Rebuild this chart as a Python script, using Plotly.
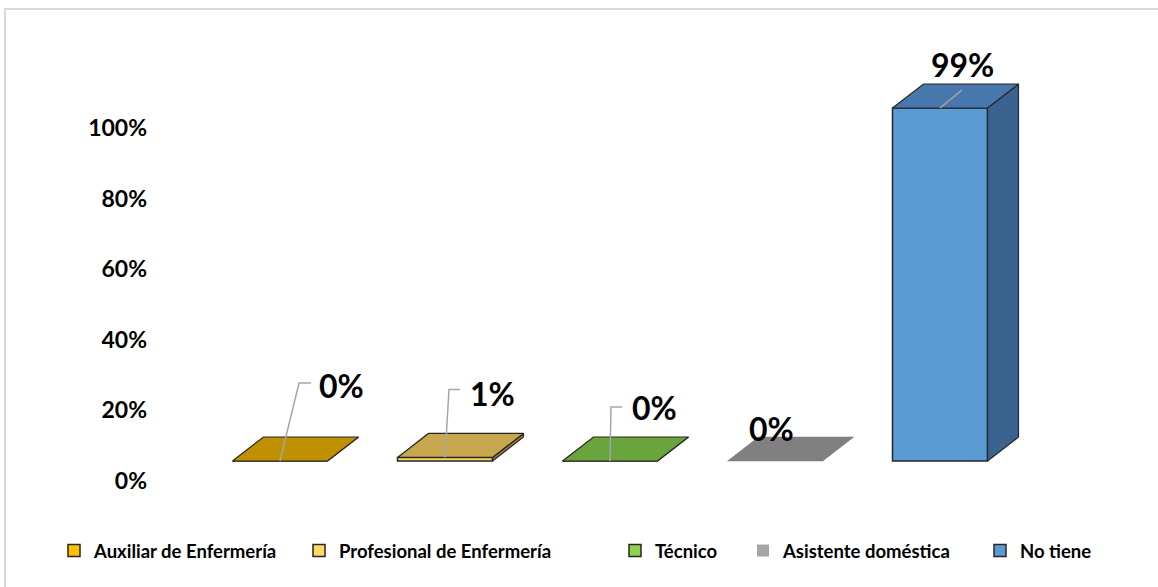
import plotly.graph_objects as go

# ---- data ----
categories = ["Auxiliar de Enfermería", "Profesional de Enfermería", "Técnico",
              "Asistente doméstica", "No tiene"]
values = [0, 1, 0, 0, 99]
value_labels = ["0%", "1%", "0%", "0%", "99%"]
tick_values = [0, 20, 40, 60, 80, 100]
tick_labels = ["0%", "20%", "40%", "60%", "80%", "100%"]

# ---- styles ----
front_colors = ["#FFC000", "#FFD966", "#92D050", "#A5A5A5", "#5B9BD5"]
top_colors = ["#BF9000", "#C8A84E", "#6AA43C", "#808080", "#4777AD"]
side_colors = ["#8F6C00", "#967E3A", "#4F7B2D", "#6A6A6A", "#3A638F"]
outlined = [True, True, True, False, True]
edge_color = "#262626"
leader_color = "#A6A6A6"
FONT = "Lato"

# ---- geometry (pixels) ----
W, H = 1158, 587
L, R, T, B = 152, 1110, 30, 505
X0_PX, X_STEP = 280, 165      # centre of first bar, distance between bars
BASE_PX = 461                 # bar baseline
K = 353 / 99                  # pixels per percentage point (bars)
BASE2_PX = 481                # baseline of the value axis labels
K2 = 3.53
BAR_W = 95 / X_STEP
DX = 31 / X_STEP              # depth offset of the 3D faces
DY = 24 / K

# label offsets (px) from the top-centre of each bar, and leader paths
label_offsets = [(61, -76), (47, -64), (44, -54), (-4, -33), (22, -44)]
leader_paths = [
    [(0, 0), (19, -78), (31, -78)],
    [(0, 0), (4, -68), (15, -68)],
    [(0, 0), (1, -54), (12, -54)],
    None,
    [(0, 0), (22, -18)],
]

fig = go.Figure()

# front faces (bars)
for i, (cat, v) in enumerate(zip(categories, values)):
    fig.add_trace(go.Bar(
        x=[i], y=[v], width=BAR_W, name=cat,
        marker=dict(color=front_colors[i],
                    line=dict(color=edge_color if outlined[i] else front_colors[i],
                              width=1.5 if outlined[i] else 0)),
        legend="legend" if i == 0 else f"legend{i + 1}",
        hoverinfo="name+y",
    ))

# top and side faces
for i, v in enumerate(values):
    xl, xr = i - BAR_W / 2, i + BAR_W / 2
    line = dict(color=edge_color if outlined[i] else top_colors[i],
                width=1.2 if outlined[i] else 0.5)
    side_x = [xr, xr + DX, xr + DX, xr, xr]
    side_y = [0, DY, v + DY, v, 0]
    fig.add_trace(go.Scatter(x=side_x, y=side_y, fill="toself", mode="lines",
                             fillcolor=side_colors[i], line=line,
                             showlegend=False, hoverinfo="skip"))
    top_x = [xl, xr, xr + DX, xl + DX, xl]
    top_y = [v, v, v + DY, v + DY, v]
    fig.add_trace(go.Scatter(x=top_x, y=top_y, fill="toself", mode="lines",
                             fillcolor=top_colors[i], line=line,
                             showlegend=False, hoverinfo="skip"))

# leader lines
for i, path in enumerate(leader_paths):
    if not path:
        continue
    fig.add_trace(go.Scatter(
        x=[i + px / X_STEP for px, _ in path],
        y=[values[i] - py / K for _, py in path],
        mode="lines", line=dict(color=leader_color, width=1.5),
        showlegend=False, hoverinfo="skip"))

# value labels
for i, (v, txt) in enumerate(zip(values, value_labels)):
    ox, oy = label_offsets[i]
    fig.add_annotation(x=i, y=v, xref="x", yref="y", text=txt, showarrow=False,
                       xshift=ox, yshift=-oy,
                       font=dict(family=FONT, size=32, color="#000000", weight="bold"))

# carrier trace for the percentage axis
fig.add_trace(go.Scatter(x=[None], y=[None], yaxis="y2", showlegend=False,
                         hoverinfo="skip"))

plot_w, plot_h = R - L, B - T


def paper_x(px):
    return (px - L) / plot_w


def paper_y(py):
    return (B - py) / plot_h


# one legend per entry so each sits at its own position
legend_text_left = [92, 337, 653, 781, 1018]
legend_layout = {}
for i, tx in enumerate(legend_text_left):
    key = "legend" if i == 0 else f"legend{i + 1}"
    legend_layout[key] = dict(
        x=paper_x(tx - 38), y=paper_y(551), xanchor="left", yanchor="middle",
        orientation="h", bgcolor="rgba(0,0,0,0)", borderwidth=0,
        font=dict(family=FONT, size=18.5, color="#000000", weight="bold"),
        itemclick=False, itemdoubleclick=False,
    )

fig.update_layout(
    width=W, height=H,
    margin=dict(l=L, r=W - R, t=T, b=H - B, pad=0),
    paper_bgcolor="white", plot_bgcolor="white",
    barmode="overlay",
    xaxis=dict(range=[(L - X0_PX) / X_STEP, (R - X0_PX) / X_STEP],
               showgrid=False, zeroline=False, showline=False,
               showticklabels=False, ticks="", fixedrange=True),
    yaxis=dict(range=[(BASE_PX - B) / K, (BASE_PX - T) / K],
               showgrid=False, zeroline=False, showline=False,
               showticklabels=False, ticks="", fixedrange=True),
    yaxis2=dict(range=[(BASE2_PX - B) / K2, (BASE2_PX - T) / K2],
                overlaying="y", side="left", tickvals=tick_values,
                ticktext=tick_labels, showgrid=False, zeroline=False,
                showline=False, ticks="", ticklabelstandoff=4,
                tickfont=dict(family=FONT, size=23, color="#000000", weight="bold"),
                fixedrange=True),
    showlegend=True,
    **legend_layout,
)

# chart area frame
fig.add_shape(type="rect", xref="paper", yref="paper",
              x0=paper_x(5), x1=paper_x(1200), y0=paper_y(640), y1=paper_y(9),
              line=dict(color="#D9D9D9", width=2), fillcolor="rgba(0,0,0,0)",
              layer="below")

fig.write_html("out.html")
